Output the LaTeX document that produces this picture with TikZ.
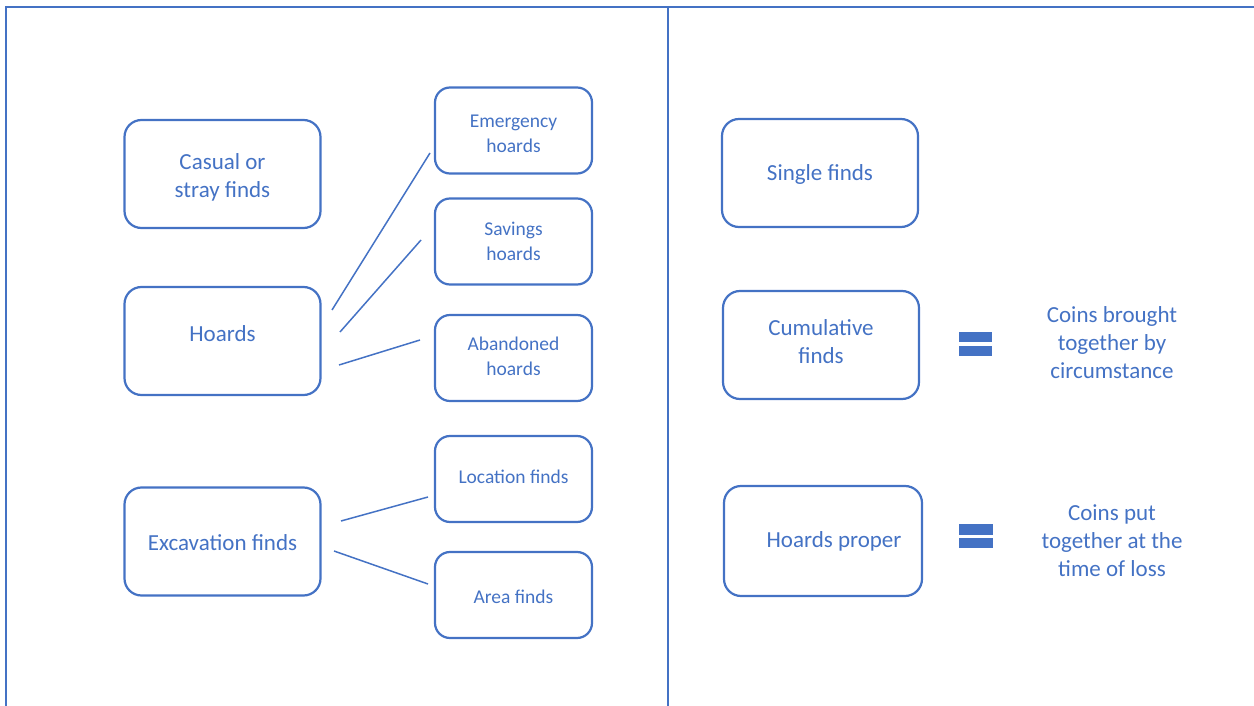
\documentclass[tikz,border=0pt]{standalone}
\usepackage{fontspec}
\setmainfont{Carlito}
\definecolor{cblue}{HTML}{4472C4}
\begin{document}
\begin{tikzpicture}[x=1pt,y=-1pt,
  frame/.style={draw=cblue, line width=1.6pt},
  bigbox/.style={draw=cblue, line width=2.2pt, rounded corners=17pt, minimum width=196pt, minimum height=108pt, inner sep=0pt},
  smallbox/.style={draw=cblue, line width=2.2pt, rounded corners=15pt, minimum width=157pt, minimum height=86pt, inner sep=0pt},
  bigtxt/.style={align=center, text=cblue, font=\fontsize{23}{28}\selectfont, inner sep=0pt},
  smalltxt/.style={align=center, text=cblue, font=\fontsize{19.5}{25}\selectfont, inner sep=0pt},
  link/.style={draw=cblue, line width=1.5pt},
  eqbar/.style={fill=cblue}]
\useasboundingbox (0,0) rectangle (1254,706);
% frame
\draw[frame] (6,706) -- (6,7) -- (1254,7);
\draw[frame] (668,7) -- (668,706);
% left column
\node[bigbox, label={[bigtxt,yshift=-3pt]center:Casual or\\stray finds}] (casual) at (222.5,174) {};
\node[bigbox, label={[bigtxt,yshift=7pt]center:Hoards}] (hoards) at (222.5,341) {};
\node[bigbox, label={[bigtxt,yshift=-1pt]center:Excavation finds}] (excav) at (222.5,541.5) {};
% middle column
\node[smallbox, label={[smalltxt,yshift=-3pt]center:Emergency\\hoards}] (emerg) at (513.5,130.5) {};
\node[smallbox, label={[smalltxt]center:Savings\\hoards}] (savings) at (513.5,241.5) {};
\node[smallbox, label={[smalltxt,yshift=2pt]center:Abandoned\\hoards}] (aband) at (513.5,358) {};
\node[smallbox, label={[smalltxt,yshift=2pt]center:Location finds}] (locat) at (513.5,479) {};
\node[smallbox, label={[smalltxt,yshift=-2pt]center:Area finds}] (area) at (513.5,595) {};
% right column
\node[bigbox, label={[bigtxt,yshift=-1pt]center:Single finds}] (single) at (820,173) {};
\node[bigbox, label={[bigtxt,yshift=3pt]center:Cumulative\\finds}] (cumul) at (821,345) {};
\node[bigbox, minimum width=198pt, minimum height=110pt, label={[bigtxt,xshift=11pt]center:Hoards proper}] (proper) at (823,541) {};
% connectors
\coordinate (h1) at (332,310);
\coordinate (e1) at (430,153);
\coordinate (h2) at (340,332);
\coordinate (s1) at (421,240);
\coordinate (h3) at (339,365);
\coordinate (a1) at (420,340);
\coordinate (x1) at (341,521);
\coordinate (l1) at (428,497);
\coordinate (x2) at (334,551);
\coordinate (r1) at (428,584);
\draw[link] (h1) -- (e1);
\draw[link] (h2) -- (s1);
\draw[link] (h3) -- (a1);
\draw[link] (x1) -- (l1);
\draw[link] (x2) -- (r1);
% equals signs
\fill[eqbar] (959,332) rectangle (992,342);
\fill[eqbar] (959,346) rectangle (992,356);
\fill[eqbar] (959,524) rectangle (993,535);
\fill[eqbar] (959,538) rectangle (993,548);
% explanations
\node[bigtxt] (circ) at (1112,343) {Coins brought\\together by\\circumstance};
\node[bigtxt] (loss) at (1112,541) {Coins put\\together at the\\time of loss};
\end{tikzpicture}
\end{document}
